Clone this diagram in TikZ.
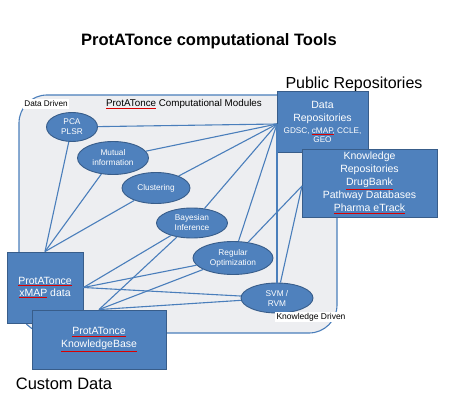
\documentclass[tikz,border=0pt]{standalone}
\usepackage{fontspec}
\setmainfont{Liberation Sans}
\usetikzlibrary{shapes.geometric, positioning}

\definecolor{boxblue}{RGB}{79,129,189}
\definecolor{boxedge}{RGB}{56,93,138}
\definecolor{linkblue}{RGB}{74,126,187}
\definecolor{dotgray}{RGB}{237,238,241}

% red spell-check mark under a word
\newcommand{\spellerr}[1]{\leavevmode\rlap{\color{red!85!black}\underline{\phantom{#1}}}#1}

\begin{document}
\begin{tikzpicture}[x=1pt, y=-1pt,
  box/.style={rectangle, draw=boxedge, fill=boxblue, line width=0.9pt, text=white, align=center, inner sep=0pt, font=\fontsize{10.5}{13}\selectfont},
  method/.style={ellipse, draw=boxedge, fill=boxblue, line width=0.9pt, text=white, align=center, inner sep=0pt, font=\fontsize{8.3}{10}\selectfont},
  link/.style={draw=linkblue, line width=1.1pt},
  tag/.style={fill=white, inner sep=1.5pt, font=\fontsize{8.2}{10}\selectfont}
]
  \useasboundingbox (0,0) rectangle (454,414);

  % Headings
  \node[font=\fontsize{16.5}{20}\selectfont\bfseries] (title) at (209,41) {ProtATonce computational Tools};
  \node[font=\fontsize{16}{20}\selectfont] (pubhead) at (354,84) {Public Repositories};
  \node[font=\fontsize{16.5}{20}\selectfont] (cushead) at (64,384) {Custom Data};

  % Module frame
  \draw[link, fill=dotgray, rounded corners=28pt] (19,95) rectangle (337,333);
  \node[font=\fontsize{9.8}{12}\selectfont] (modtitle) at (184,104) {\spellerr{ProtATonce} Computational Modules};

  % Methods
  \node[method, minimum width=51, minimum height=29] (pca) at (72,127) {PCA\\PLSR};
  \node[method, minimum width=71, minimum height=33] (mutual) at (113,158) {Mutual\\information};
  \node[method, minimum width=68, minimum height=31] (clust) at (156,188) {Clustering};
  \node[method, minimum width=71, minimum height=30] (bayes) at (192,223) {Bayesian\\Inference};
  \node[method, minimum width=80, minimum height=33] (regopt) at (233,258) {Regular\\Optimization};
  \node[method, minimum width=72, minimum height=30] (svm) at (277,298) {SVM /\\RVM};

  % Public repositories
  \node[box, minimum width=91, minimum height=61] (datarep) at (322.5,121.5)
    {Data\\Repositories\\[-1pt]{\fontsize{8.2}{9}\selectfont GDSC, \spellerr{cMAP}, CCLE,}\\[-4pt]{\fontsize{8.2}{9}\selectfont GEO}};
  \node[box, minimum width=135, minimum height=68] (knowrep) at (369.5,183)
    {Knowledge\\Repositories\\\spellerr{DrugBank}\\Pathway Databases\\\spellerr{Pharma eTrack}};

  % Custom data
  \node[box, minimum width=76, minimum height=71] (xmap) at (45,287.5) {\spellerr{ProtATonce}\\[-1pt]\spellerr{xMAP} data};
  \node[box, minimum width=134, minimum height=59] (kbase) at (99,339.5) {\spellerr{ProtATonce}\\\spellerr{KnowledgeBase}};

  % Hubs on the repository boxes
  \coordinate (dhub) at (277,124);
  \coordinate (khub) at (302,186);

  % Links
  \draw[link] (dhub) -- (pca);
  \draw[link] (dhub) -- (mutual);
  \draw[link] (dhub) -- (clust);
  \draw[link] (dhub) -- (bayes);
  \draw[link] (dhub) -- (regopt);
  \draw[link] (dhub) -- (svm);
  \draw[link] (khub) -- (regopt);
  \draw[link] (khub) -- (svm);
  \draw[link] (xmap.north) -- (pca);
  \draw[link] (xmap.north) -- (mutual);
  \draw[link] (xmap.north) -- (clust);
  \draw[link] (xmap.east) -- (bayes);
  \draw[link] (xmap.east) -- (regopt);
  \draw[link] (xmap.east) -- (svm);
  \draw[link] (kbase.north) -- (bayes);
  \draw[link] (kbase.north) -- (regopt);
  \draw[link] (kbase.north) -- (svm);

  % Frame tags
  \node[tag] (ddtag) at (46,104) {Data Driven};
  \node[tag, font=\fontsize{8.5}{10}\selectfont] (kdtag) at (311,317) {Knowledge Driven};
\end{tikzpicture}
\end{document}
